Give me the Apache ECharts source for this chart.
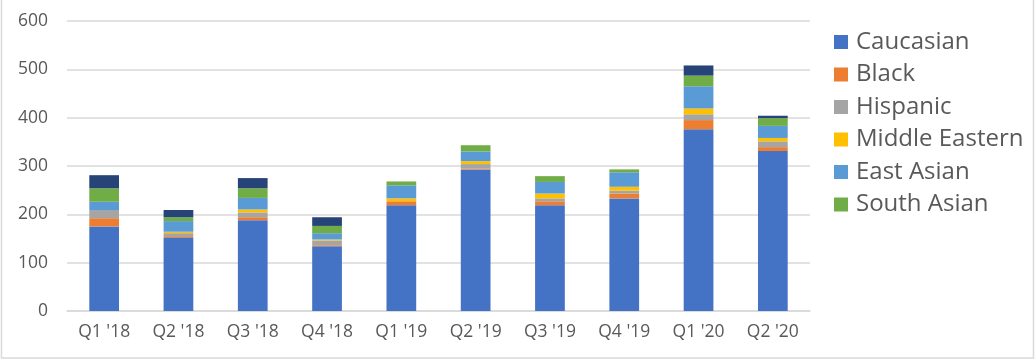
<!DOCTYPE html>
<html>
<head>
<meta charset="utf-8">
<script src="https://cdn.jsdelivr.net/npm/echarts@6/dist/echarts.min.js"></script>
<style>
html,body{margin:0;padding:0;background:#fff;}
#chart{width:1036px;height:360px;}
</style>
</head>
<body>
<div id="chart"></div>
<script>
const categories = ["Q1 '18","Q2 '18","Q3 '18","Q4 '18","Q1 '19","Q2 '19","Q3 '19","Q4 '19","Q1 '20","Q2 '20"];
const yTicks = [0,100,200,300,400,500,600];
const caucasian      = [175, 151, 188, 134, 219, 293, 219, 233, 376, 331];
const black          = [17, 2, 6, 2, 8, 2, 8, 10, 19, 8];
const hispanic       = [17, 8, 10, 10, 0, 9, 6, 6, 12, 12];
const middleEastern  = [0, 3, 6, 2, 6, 6, 10, 8, 12, 7];
const eastAsian      = [17, 22, 24, 13, 27, 20, 24, 30, 46, 25];
const southAsian     = [28, 8, 20, 15, 8, 13, 12, 6, 22, 16];
const other          = [27, 15, 21, 18, 0, 0, 0, 0, 21, 5];

const seriesDefs = [
  {name:'Caucasian', data:caucasian, color:'#4472C4'},
  {name:'Black', data:black, color:'#ED7D31'},
  {name:'Hispanic', data:hispanic, color:'#A5A5A5'},
  {name:'Middle Eastern', data:middleEastern, color:'#FFC000'},
  {name:'East Asian', data:eastAsian, color:'#5B9BD5'},
  {name:'South Asian', data:southAsian, color:'#70AD47'},
  {name:'Other', data:other, color:'#264478'}
];

const chart = echarts.init(document.getElementById('chart'), null, {renderer:'canvas'});
const font = "'Open Sans', sans-serif";
chart.setOption({
  animation:false,
  backgroundColor:'#fff',
  textStyle:{fontFamily:font},
  graphic:[{type:'rect', shape:{x:1.5,y:-2,width:1032,height:360}, style:{fill:'none', stroke:'#d9d9d9', lineWidth:1.5}, silent:true}],
  grid:{left:67, right:226, top:21, bottom:49},
  legend:{
    data:seriesDefs.slice(0,6).map(s=>s.name),
    orient:'vertical', left:829, top:25,
    itemWidth:14, itemHeight:14, itemGap:8.5,
    icon:'rect',
    textStyle:{fontFamily:font, fontSize:24, lineHeight:24, color:'#595959', padding:[0,0,0,3]}
  },
  xAxis:{
    type:'category', data:categories,
    axisTick:{show:false},
    axisLine:{lineStyle:{color:'#d9d9d9', width:1.5}},
    axisLabel:{fontFamily:font, fontSize:17.5, color:'#595959', margin:12}
  },
  yAxis:{
    type:'value', min:yTicks[0], max:yTicks[yTicks.length-1], interval:100,
    axisLine:{show:false}, axisTick:{show:false},
    splitLine:{lineStyle:{color:'#d9d9d9', width:1.5}},
    axisLabel:{fontFamily:font, fontSize:17.5, color:'#595959', margin:19}
  },
  series:seriesDefs.map(s=>({
    name:s.name, type:'bar', stack:'total', data:s.data,
    barWidth:'40%', itemStyle:{color:s.color}
  }))
});
</script>
</body>
</html>
